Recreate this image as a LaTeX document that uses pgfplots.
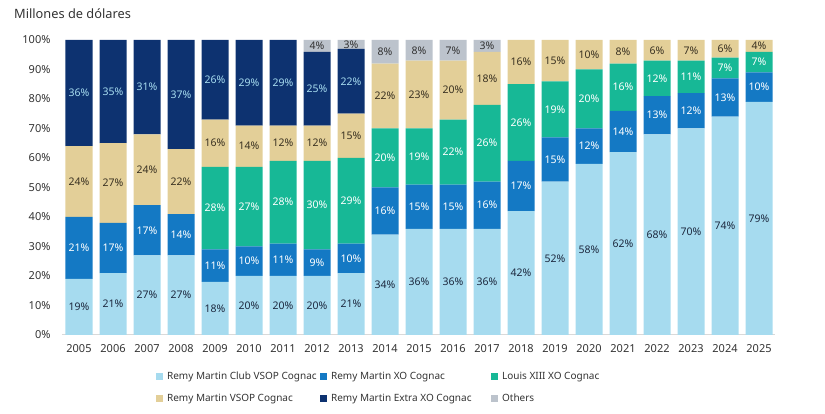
\documentclass[border=0pt]{standalone}
\usepackage{pgfplots}
\pgfplotsset{compat=1.18}
\usepackage{pgfplotstable}
\usepackage{fontspec}
\setmainfont{Noto Sans}
\definecolor{cclub}{HTML}{A6DBEF}
\definecolor{cxo}{HTML}{1479C4}
\definecolor{clouis}{HTML}{17B896}
\definecolor{cvsop}{HTML}{E3CF98}
\definecolor{cextra}{HTML}{0D3270}
\definecolor{cothers}{HTML}{BCC3CC}
\definecolor{tdark}{HTML}{1E2A40}
\definecolor{tbrown}{HTML}{3A3222}
\definecolor{tgray}{HTML}{333333}

\pgfplotstableread{
x v l
0 19 19
1 21 21
2 27 27
3 27 27
4 18 18
5 20 20
6 20 20
7 20 20
8 21 21
9 34 34
10 36 36
11 36 36
12 36 36
13 42 42
14 52 52
15 58 58
16 62 62
17 68 68
18 70 70
19 74 74
20 79 79
}\tclub
\pgfplotstableread{
x v l
0 21 21
1 17 17
2 17 17
3 14 14
4 11 11
5 10 10
6 11 11
7 9 9
8 10 10
9 16 16
10 15 15
11 15 15
12 16 16
13 17 17
14 15 15
15 12 12
16 14 14
17 13 13
18 12 12
19 13 13
20 10 10
}\txo
\pgfplotstableread{
x v l
0 0 0
1 0 0
2 0 0
3 0 0
4 28 28
5 27 27
6 28 28
7 30 30
8 29 29
9 20 20
10 19 19
11 22 22
12 26 26
13 26 26
14 19 19
15 20 20
16 16 16
17 12 12
18 11 11
19 7 7
20 7 7
}\tlouis
\pgfplotstableread{
x v l
0 24 24
1 27 27
2 24 24
3 22 22
4 16 16
5 14 14
6 12 12
7 12 12
8 15 15
9 22 22
10 23 23
11 20 20
12 18 18
13 15 16
14 14 15
15 10 10
16 8 8
17 7 6
18 7 7
19 6 6
20 4 4
}\tvsop
\pgfplotstableread{
x v l
0 36 36
1 35 35
2 32 31
3 37 37
4 27 26
5 29 29
6 29 29
7 25 25
8 22 22
9 0 0
10 0 0
11 0 0
12 0 0
13 0 0
14 0 0
15 0 0
16 0 0
17 0 0
18 0 0
19 0 0
20 0 0
}\textra
\pgfplotstableread{
x v l
0 0 0
1 0 0
2 0 0
3 0 0
4 0 0
5 0 0
6 0 0
7 4 4
8 3 3
9 8 8
10 7 8
11 7 7
12 4 3
13 0 0
14 0 0
15 0 0
16 0 0
17 0 0
18 0 0
19 0 0
20 0 0
}\tothers

\pgfplotsset{
  mybar/.style n args={2}{
    fill=#1, draw=none,
    legend image code/.code={\path[fill=#1] (0pt,-3.5pt) rectangle (7pt,3.5pt);},
    point meta=explicit symbolic,
    nodes near coords={\ifnum\pgfplotspointmeta>0 \pgfplotspointmeta\%\fi},
    every node near coord/.append style={text=#2, anchor=center,
      font=\fontsize{10.5}{12}\selectfont},
  },
}

\begin{document}
\begin{tikzpicture}
\useasboundingbox (-62pt,-79pt) rectangle (763pt,335pt);
\node[anchor=west, text=tgray, font=\fontsize{12.8}{15}\selectfont, inner sep=0pt] at (-48pt,321pt) {Millones de dólares};
\begin{axis}[
  at={(0pt,0pt)}, anchor=south west,
  scale only axis, width=713pt, height=295pt,
  ybar stacked, bar width=27pt,
  xmin=-0.5, xmax=20.47, ymin=0, ymax=100,
  axis x line=bottom, axis y line=left,
  x axis line style={-, draw=gray!30, line width=1pt},
  y axis line style={draw=none},
  major tick length=0pt, tick style={draw=none},
  xtick={0,...,20},
  xticklabels={2005,2006,2007,2008,2009,2010,2011,2012,2013,2014,2015,2016,2017,2018,2019,2020,2021,2022,2023,2024,2025},
  ytick={0,10,...,100},
  yticklabels={0\%,10\%,20\%,30\%,40\%,50\%,60\%,70\%,80\%,90\%,100\%},
  tick label style={font=\fontsize{11}{13}\selectfont, text=tgray},
  xticklabel style={yshift=-6pt},
  yticklabel style={xshift=-8pt},
  legend columns=3,
  legend cell align=left,
  legend style={at={(0.1275,-0.112)}, anchor=north west, draw=none, fill=none,
    font=\fontsize{10}{12}\selectfont, text=tgray, row sep=9pt,
    /tikz/every even column/.append style={column sep=0pt},
    /tikz/every odd column/.append style={column sep=2pt}},
]
\addplot+[mybar={cclub}{tdark}] table[x=x, y=v, meta=l] {\tclub};
\addlegendentry{\makebox[151pt][l]{Remy Martin Club VSOP Cognac}}
\addplot+[mybar={cxo}{white}] table[x=x, y=v, meta=l] {\txo};
\addlegendentry{\makebox[158pt][l]{Remy Martin XO Cognac}}
\addplot+[mybar={clouis}{white}] table[x=x, y=v, meta=l] {\tlouis};
\addlegendentry{Louis XIII XO Cognac}
\addplot+[mybar={cvsop}{tbrown}] table[x=x, y=v, meta=l] {\tvsop};
\addlegendentry{Remy Martin VSOP Cognac}
\addplot+[mybar={cextra}{cclub}] table[x=x, y=v, meta=l] {\textra};
\addlegendentry{Remy Martin Extra XO Cognac}
\addplot+[mybar={cothers}{tgray}] table[x=x, y=v, meta=l] {\tothers};
\addlegendentry{Others}
\end{axis}
\end{tikzpicture}
\end{document}
